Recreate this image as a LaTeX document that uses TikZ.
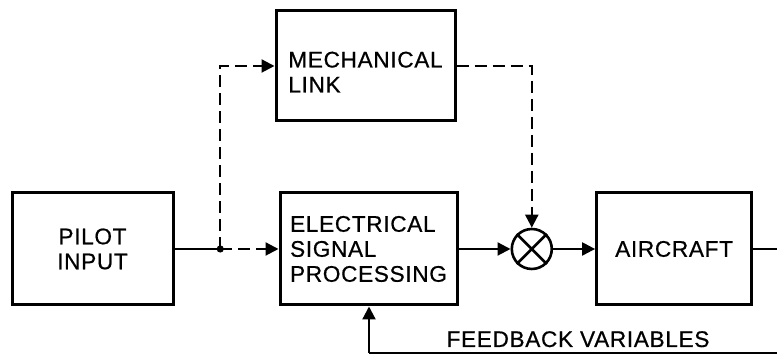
\documentclass[tikz,border=0pt]{standalone}
\usepackage{fontspec}
\setmainfont{Liberation Sans}[FakeBold=0.6,LetterSpace=3]
\usepackage{tikz}
\usetikzlibrary{positioning,calc,arrows.meta}

\begin{document}
\begin{tikzpicture}[font=\fontsize{11.3}{12.5}\selectfont,
 blk/.style={draw,line width=1.5pt,minimum height=56pt,inner sep=0pt},
 sumnode/.style={draw,circle,line width=1.3pt,minimum size=20pt,inner sep=0pt},
 ln/.style={line width=1.1pt},
 ar/.style={ln,-{Triangle[length=6.5pt,width=6.5pt]}},
 dsh/.style={dash pattern=on 6pt off 3pt}]
\useasboundingbox (0,0) rectangle (388.5pt,178pt);
\node[blk,minimum width=80.5pt,align=center] (pilot) at (46.25pt,53.5pt) {PILOT\\INPUT};
\node[blk,minimum width=88.5pt,align=left,right=52pt of pilot] (elec) {ELECTRICAL\\SIGNAL\\PROCESSING};
\node[blk,minimum width=89.5pt,minimum height=55pt,align=left,above=34.5pt of elec,xshift=-1.5pt] (mech) {\rule{0pt}{14pt}MECHANICAL\\LINK};
\node[sumnode,right=26pt of elec] (sum) {};
\draw[line width=1.3pt] (sum.north west) -- (sum.south east) (sum.north east) -- (sum.south west);
\node[blk,minimum width=77.5pt,right=21pt of sum] (air) {AIRCRAFT};
\coordinate (jn) at ($(pilot.east)!0.44!(elec.west)$);
\coordinate (outr) at (388.5pt,0 |- air.east);
\coordinate (fbr) at (388.5pt,1.5pt);
\coordinate (fbl) at (184.5pt,1.5pt);
\node[anchor=base] (fbtxt) at (289pt,4.5pt) {FEEDBACK VARIABLES};
% forward path
\draw[ln] (pilot) -- (jn);
\fill (jn) circle (1.8pt);
\draw[ar,dsh] (jn) -- (elec);
\draw[ar,dsh] (jn) |- (mech);
\draw[ar,dsh] (mech) -| (sum);
\draw[ar] (elec) -- (sum);
\draw[ar] (sum) -- (air);
\draw[line width=0.8pt] (air) -- (outr);
% feedback
\draw[line width=0.8pt] (fbr) -- (fbl);
\draw[ar] (fbl) -- (fbl |- elec.south);
\end{tikzpicture}
\end{document}
